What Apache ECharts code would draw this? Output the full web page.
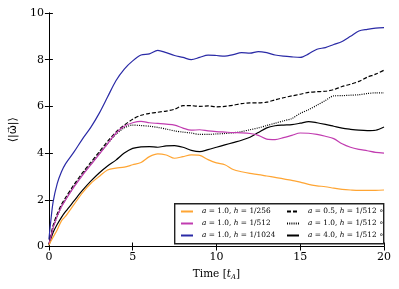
<!DOCTYPE html>
<html>
<head>
<meta charset="utf-8">
<script src="https://cdn.jsdelivr.net/npm/echarts@6/dist/echarts.min.js"></script>
<style>
html,body{margin:0;padding:0;background:#fff;}
#c{width:399px;height:289px;}
</style>
</head>
<body>
<div id="c"></div>
<script>
var T = [0,0.1,0.25,0.5,0.75,1,1.5,2,2.5,3,3.5,4,4.5,5,5.5,6,6.5,7,7.5,8,8.5,9,9.5,10,10.5,11,11.5,12,12.5,13,13.5,14,14.5,15,15.5,16,16.5,17,17.5,18,18.5,19,19.5,20];

var orange256 = [0.05,0.2,0.4,0.72,1.1,1.3,1.8,2.3,2.7,3.0,3.28,3.36,3.4,3.5,3.6,3.85,3.97,3.92,3.78,3.85,3.92,3.9,3.72,3.58,3.5,3.3,3.2,3.13,3.08,3.02,2.96,2.9,2.83,2.76,2.66,2.6,2.56,2.5,2.45,2.42,2.4,2.4,2.4,2.42];
var magenta512 = [0.1,0.35,0.8,1.3,1.7,2.0,2.55,3.05,3.5,3.95,4.4,4.85,5.15,5.3,5.36,5.3,5.27,5.24,5.2,5.07,4.98,5.0,4.95,4.92,4.9,4.88,4.87,4.84,4.76,4.6,4.58,4.66,4.76,4.86,4.85,4.8,4.72,4.62,4.4,4.25,4.16,4.1,4.03,4.0];
var blue1024 = [0.3,1.0,1.9,2.7,3.2,3.55,4.05,4.6,5.1,5.7,6.4,7.1,7.6,7.95,8.2,8.25,8.4,8.3,8.18,8.1,8.0,8.1,8.2,8.18,8.15,8.22,8.3,8.28,8.35,8.3,8.2,8.15,8.12,8.1,8.25,8.45,8.52,8.65,8.78,9.0,9.23,9.3,9.35,9.37];
var dashed05 = [0.1,0.4,0.9,1.4,1.8,2.1,2.65,3.15,3.6,4.05,4.5,4.9,5.2,5.45,5.62,5.7,5.75,5.8,5.88,6.03,6.03,6.0,6.02,5.98,6.0,6.05,6.12,6.15,6.15,6.18,6.28,6.37,6.45,6.52,6.6,6.63,6.65,6.72,6.85,6.95,7.07,7.25,7.38,7.55];
var dotted10 = [0.1,0.35,0.8,1.3,1.72,2.02,2.58,3.08,3.52,3.97,4.4,4.8,5.08,5.2,5.18,5.15,5.1,5.03,4.95,4.9,4.86,4.8,4.8,4.82,4.84,4.87,4.92,5.0,5.08,5.18,5.28,5.38,5.48,5.7,5.86,6.05,6.25,6.45,6.46,6.48,6.5,6.55,6.58,6.58];
var solid40 = [0.05,0.28,0.6,0.95,1.25,1.5,1.95,2.4,2.8,3.15,3.45,3.7,4.0,4.2,4.27,4.28,4.25,4.31,4.32,4.25,4.12,4.06,4.15,4.25,4.35,4.45,4.55,4.68,4.88,5.08,5.17,5.2,5.22,5.28,5.35,5.3,5.23,5.15,5.07,5.02,4.98,4.96,4.98,5.12];

var xTicks = [0,5,10,15,20];
var yTicks = [0,2,4,6,8,10];

var names = [
  'a = 1.0, h = 1/256',
  'a = 1.0, h = 1/512',
  'a = 1.0, h = 1/1024',
  'a = 0.5, h = 1/512 ∘',
  'a = 1.0, h = 1/512 ∘ ',
  'a = 4.0, h = 1/512 ∘'
];
var seriesData = [orange256, magenta512, blue1024, dashed05, dotted10, solid40];
var colors = ['#ffa533','#c13cb0','#2a2aa6','#000000','#000000','#000000'];
var types = ['solid','solid','solid',[4,2],[1,1.2],'solid'];

function pairs(v){ return T.map(function(t,i){ return [t, v[i]]; }); }

var serif = 'DejaVu Serif';
var series = seriesData.map(function(v,i){
  return {
    name: names[i], type: 'line', data: pairs(v), showSymbol: false, symbol: 'none',
    smooth: 0.3, animation: false,
    lineStyle: {color: colors[i], width: 1.2, type: types[i]},
    itemStyle: {color: colors[i]},
    z: 10 - i
  };
});

function fmtLegend(n){
  var m = n.trim().match(/^a = ([\d.]+), h = ([\d\/]+)( ∘)?$/);
  return '{sp|}{i|a}{t| = ' + m[1] + ', }{i|h}{t| = ' + m[2] + '}' + (m[3] ? '{c| ∘}' : '');
}
var legendRich = {
  sp: {width: 4, height: 9, lineHeight: 9},
  i: {fontFamily: serif, fontStyle: 'italic', fontSize: 7.4, lineHeight: 9, color: '#000'},
  t: {fontFamily: serif, fontSize: 7.4, lineHeight: 9, color: '#000'},
  c: {fontFamily: 'DejaVu Sans', fontSize: 7.5, lineHeight: 9, color: '#000'}
};

var legendCommon = {
  orient: 'vertical', top: 205.5, z: 20,
  itemWidth: 12, itemHeight: 8, itemGap: 0, padding: 0,
  itemStyle: {opacity: 0, borderWidth: 0},
  formatter: fmtLegend, textStyle: {rich: legendRich}
};

var chart = echarts.init(document.getElementById('c'), null, {renderer: 'canvas'});
var axisLabelStyle = {fontFamily: serif, fontSize: 11, color: '#000'};
chart.setOption({
  animation: false,
  grid: {left: 45, right: 15, top: 13, bottom: 42.5, containLabel: false},
  xAxis: [{
    type: 'value', min: 0, max: 20, interval: 5,
    axisLine: {lineStyle: {color: '#000', width: 1}},
    axisTick: {inside: true, length: 4, lineStyle: {color: '#000'}},
    splitLine: {show: false},
    axisLabel: Object.assign({margin: 5, formatter: function(v){ return xTicks.indexOf(v) >= 0 ? String(v) : ''; }}, axisLabelStyle),
    name: '{t|Time [}{i|t}{s|A}{t|]}', nameLocation: 'middle', nameGap: 22,
    nameTextStyle: {rich: {
      t: {fontFamily: serif, fontSize: 10.5, color: '#000'},
      i: {fontFamily: serif, fontStyle: 'italic', fontSize: 10.5, color: '#000'},
      s: {fontFamily: serif, fontStyle: 'italic', fontSize: 7, color: '#000', verticalAlign: 'bottom', padding: [5,0,0,0]}
    }}
  },{
    type: 'value', min: 0, max: 20, interval: 5, position: 'top',
    axisLine: {lineStyle: {color: '#000', width: 1}},
    axisTick: {inside: true, length: 4, lineStyle: {color: '#000'}},
    axisLabel: {show: false}, splitLine: {show: false}
  }],
  yAxis: [{
    type: 'value', min: 0, max: 10, interval: 2,
    axisLine: {show: true, lineStyle: {color: '#000', width: 1}},
    axisTick: {show: true, inside: true, length: 4, lineStyle: {color: '#000'}},
    splitLine: {show: false},
    axisLabel: Object.assign({margin: 5, formatter: function(v){ return yTicks.indexOf(v) >= 0 ? String(v) : ''; }}, axisLabelStyle),
    name: '⟨|ω⃗|⟩', nameLocation: 'middle', nameGap: 24, nameRotate: 90,
    nameTextStyle: {fontFamily: 'DejaVu Sans', fontSize: 11, color: '#000'}
  },{
    type: 'value', min: 0, max: 10, interval: 2, position: 'right',
    axisLine: {show: true, lineStyle: {color: '#000', width: 1}},
    axisTick: {show: true, inside: true, length: 4, lineStyle: {color: '#000'}},
    axisLabel: {show: false}, splitLine: {show: false}
  }],
  legend: [
    Object.assign({data: names.slice(0,3), left: 180}, legendCommon),
    Object.assign({data: names.slice(3), left: 286}, legendCommon)
  ],
  graphic: [{
    type: 'rect', left: 174, top: 203, z: 15,
    shape: {width: 209, height: 40},
    style: {fill: '#fff', stroke: '#222', lineWidth: 1.4}
  }],
  series: series
});
</script>
</body>
</html>
